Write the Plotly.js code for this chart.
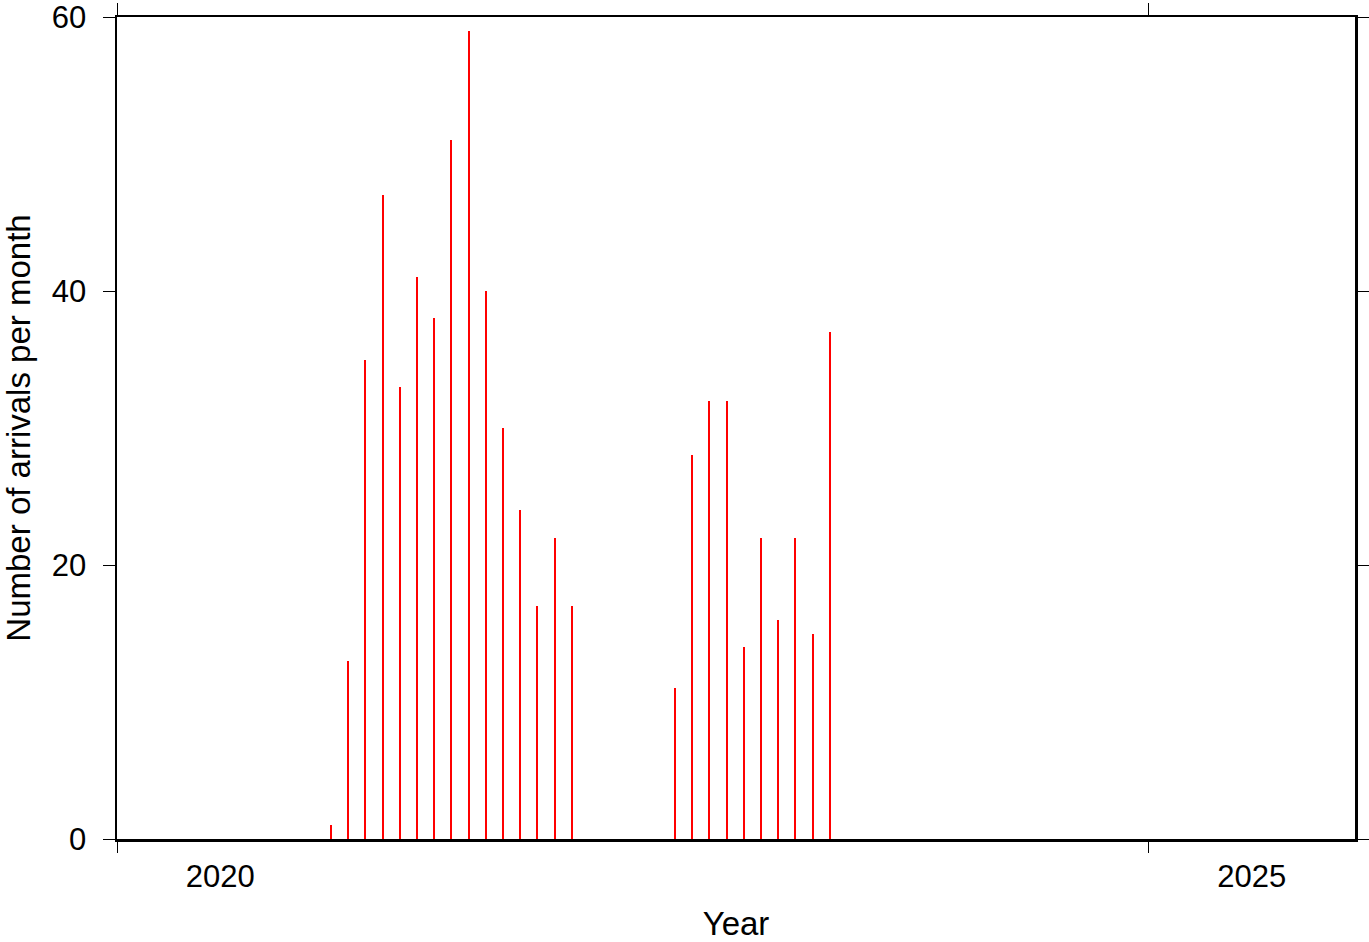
<!DOCTYPE html>
<html>
<head>
<meta charset="utf-8">
<script src="https://cdn.plot.ly/plotly-3.0.1.min.js"></script>
<style>html,body{margin:0;padding:0;background:#fff;}#chart{width:1369px;height:942px;}</style>
</head>
<body>
<div id="chart"></div>
<script>
// Months (YYYY-MM) and number of arrivals per month
const months = ["2021-01","2021-02","2021-03","2021-04","2021-05","2021-06","2021-07","2021-08","2021-09","2021-10","2021-11","2021-12",
                "2022-01","2022-02","2022-03",
                "2022-09","2022-10","2022-11","2022-12",
                "2023-01","2023-02","2023-03","2023-04","2023-05","2023-06"];
const arrivals = [1,13,35,47,33,41,38,51,59,40,30,24,
                  17,22,17,
                  11,28,32,32,
                  14,22,16,22,15,37];
const yTicks = [0,20,40,60];
const yearTicks = [2020,2025];
const yearLabels = ["2020","2025"];

// decimal-year position of each monthly bar (placed within the month)
const xPos = months.map(m => { const [y, mo] = m.split("-").map(Number); return y + (mo - 1 + 0.45) / 12; });

const fam = "Liberation Sans, Arial, Helvetica, sans-serif";
const tickFont = {family: fam, size: 31, color: "#000"};
const titleFont = {family: fam, size: 33, color: "#000"};

const traces = [{
  type: "bar",
  x: xPos,
  y: arrivals,
  width: 0.0095,
  marker: {color: "#ff0000", line: {width: 0}},
  xaxis: "x",
  yaxis: "y",
  hoverinfo: "x+y"
}];

const layout = {
  width: 1369, height: 942,
  margin: {l: 117, r: 14, t: 17, b: 103},
  paper_bgcolor: "#fff", plot_bgcolor: "#fff",
  showlegend: false,
  font: tickFont,
  bargap: 0,
  xaxis: {
    range: [2020, 2026],
    tickmode: "array",
    tickvals: yearTicks.map(v => v + 0.5),
    ticktext: yearLabels,
    ticks: "", ticklabelstandoff: 8,
    showgrid: false, zeroline: false,
    showline: true, linecolor: "#000", linewidth: 2.5, mirror: true,
    tickfont: tickFont, ticklabeloverflow: "allow",
    title: {text: "Year", font: titleFont, standoff: 38}
  },
  xaxis2: {
    overlaying: "x", matching: "x", range: [2020, 2026],
    anchor: "y", side: "bottom",
    tickmode: "array", tickvals: yearTicks, ticktext: ["", ""],
    ticks: "outside", ticklen: 13, tickwidth: 1, tickcolor: "#000",
    showticklabels: false, showgrid: false, zeroline: false,
    showline: false, mirror: "ticks"
  },
  yaxis: {
    range: [0, 60],
    tickmode: "array", tickvals: yTicks,
    ticks: "outside", ticklen: 12, tickwidth: 1, tickcolor: "#000",
    ticklabelstandoff: 10, ticklabeloverflow: "allow",
    showgrid: false, zeroline: false,
    showline: true, linecolor: "#000", linewidth: 2.5, mirror: "ticks",
    tickfont: tickFont,
    title: {text: "Number of arrivals per month", font: titleFont, standoff: 13}
  }
};

// invisible trace to activate xaxis2
traces.push({type: "scatter", x: [2020], y: [0], xaxis: "x2", yaxis: "y", mode: "markers", marker: {opacity: 0}, hoverinfo: "skip"});

Plotly.newPlot("chart", traces, layout, {displayModeBar: false, staticPlot: true});
</script>
</body>
</html>
